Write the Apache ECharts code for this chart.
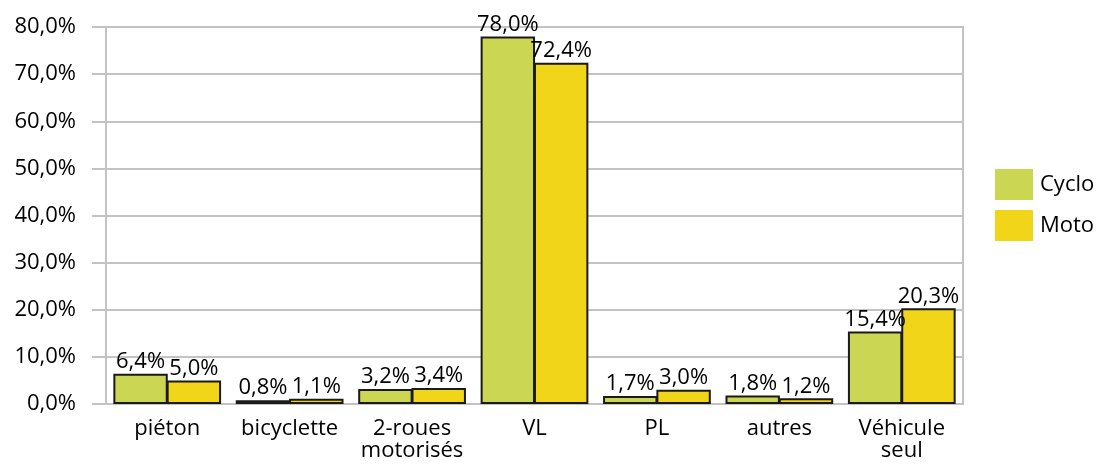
<!DOCTYPE html>
<html>
<head>
<meta charset="utf-8">
<script src="https://cdn.jsdelivr.net/npm/echarts@6/dist/echarts.min.js"></script>
<style>
html, body { margin: 0; padding: 0; background: #fff; }
#main { width: 1101px; height: 464px; }
</style>
</head>
<body>
<div id="main"></div>
<script>
const categories = ['piéton', 'bicyclette', '2-roues\nmotorisés', 'VL', 'PL', 'autres', 'Véhicule\nseul'];
const cyclo = [6.4, 0.8, 3.2, 78.0, 1.7, 1.8, 15.4];
const moto = [5.0, 1.1, 3.4, 72.4, 3.0, 1.2, 20.3];

const myChart = echarts.init(document.getElementById('main'));

const font = '"Open Sans", sans-serif';
const grey = '#c3c3c3';

function pct(v) {
	return v.toFixed(1).replace('.', ',') + '%';
}

const barLabel = {
	show: true,
	position: 'top',
	distance: 1,
	color: '#000',
	fontFamily: font,
	fontSize: 22,
	formatter: function (p) {
		return pct(p.value);
	}
};

option = {
	animation: false,
	textStyle: { fontFamily: font },
	grid: {
		left: 106,
		right: 138,
		top: 27,
		bottom: 60,
		show: true,
		borderColor: grey,
		borderWidth: 2
	},
	legend: {
		orient: 'vertical',
		left: 995,
		top: 169,
		padding: 0,
		itemWidth: 38,
		itemHeight: 31,
		itemGap: 10,
		icon: 'rect',
		itemStyle: { borderWidth: 0 },
		textStyle: { fontFamily: font, fontSize: 22, color: '#000', padding: [0, 0, 0, 2] },
		data: ['Cyclo', 'Moto']
	},
	xAxis: {
		type: 'category',
		data: categories,
		axisLine: { lineStyle: { color: grey, width: 2 } },
		axisTick: { length: 12, lineStyle: { color: grey, width: 2 } },
		axisLabel: {
			color: '#000',
			fontFamily: font,
			fontSize: 22,
			lineHeight: 22,
			margin: 14,
			interval: 0
		}
	},
	yAxis: {
		type: 'value',
		min: 0,
		max: 80,
		interval: 10,
		axisLine: { show: true, lineStyle: { color: grey, width: 2 } },
		axisTick: { show: true, length: 14, lineStyle: { color: grey, width: 2 } },
		splitLine: { lineStyle: { color: grey, width: 2 } },
		axisLabel: {
			color: '#000',
			fontFamily: font,
			fontSize: 22,
			margin: 30,
			formatter: function (v) {
				return pct(v);
			}
		}
	},
	series: [
		{
			name: 'Cyclo',
			type: 'bar',
			data: cyclo,
			barGap: '-2%',
			barCategoryGap: '12%',
			itemStyle: { color: '#cbd653', borderColor: '#1a1a1a', borderWidth: 2 },
			label: barLabel
		},
		{
			name: 'Moto',
			type: 'bar',
			data: moto,
			itemStyle: { color: '#f0d519', borderColor: '#1a1a1a', borderWidth: 2 },
			label: barLabel
		}
	]
};

myChart.setOption(option);
</script>
</body>
</html>
